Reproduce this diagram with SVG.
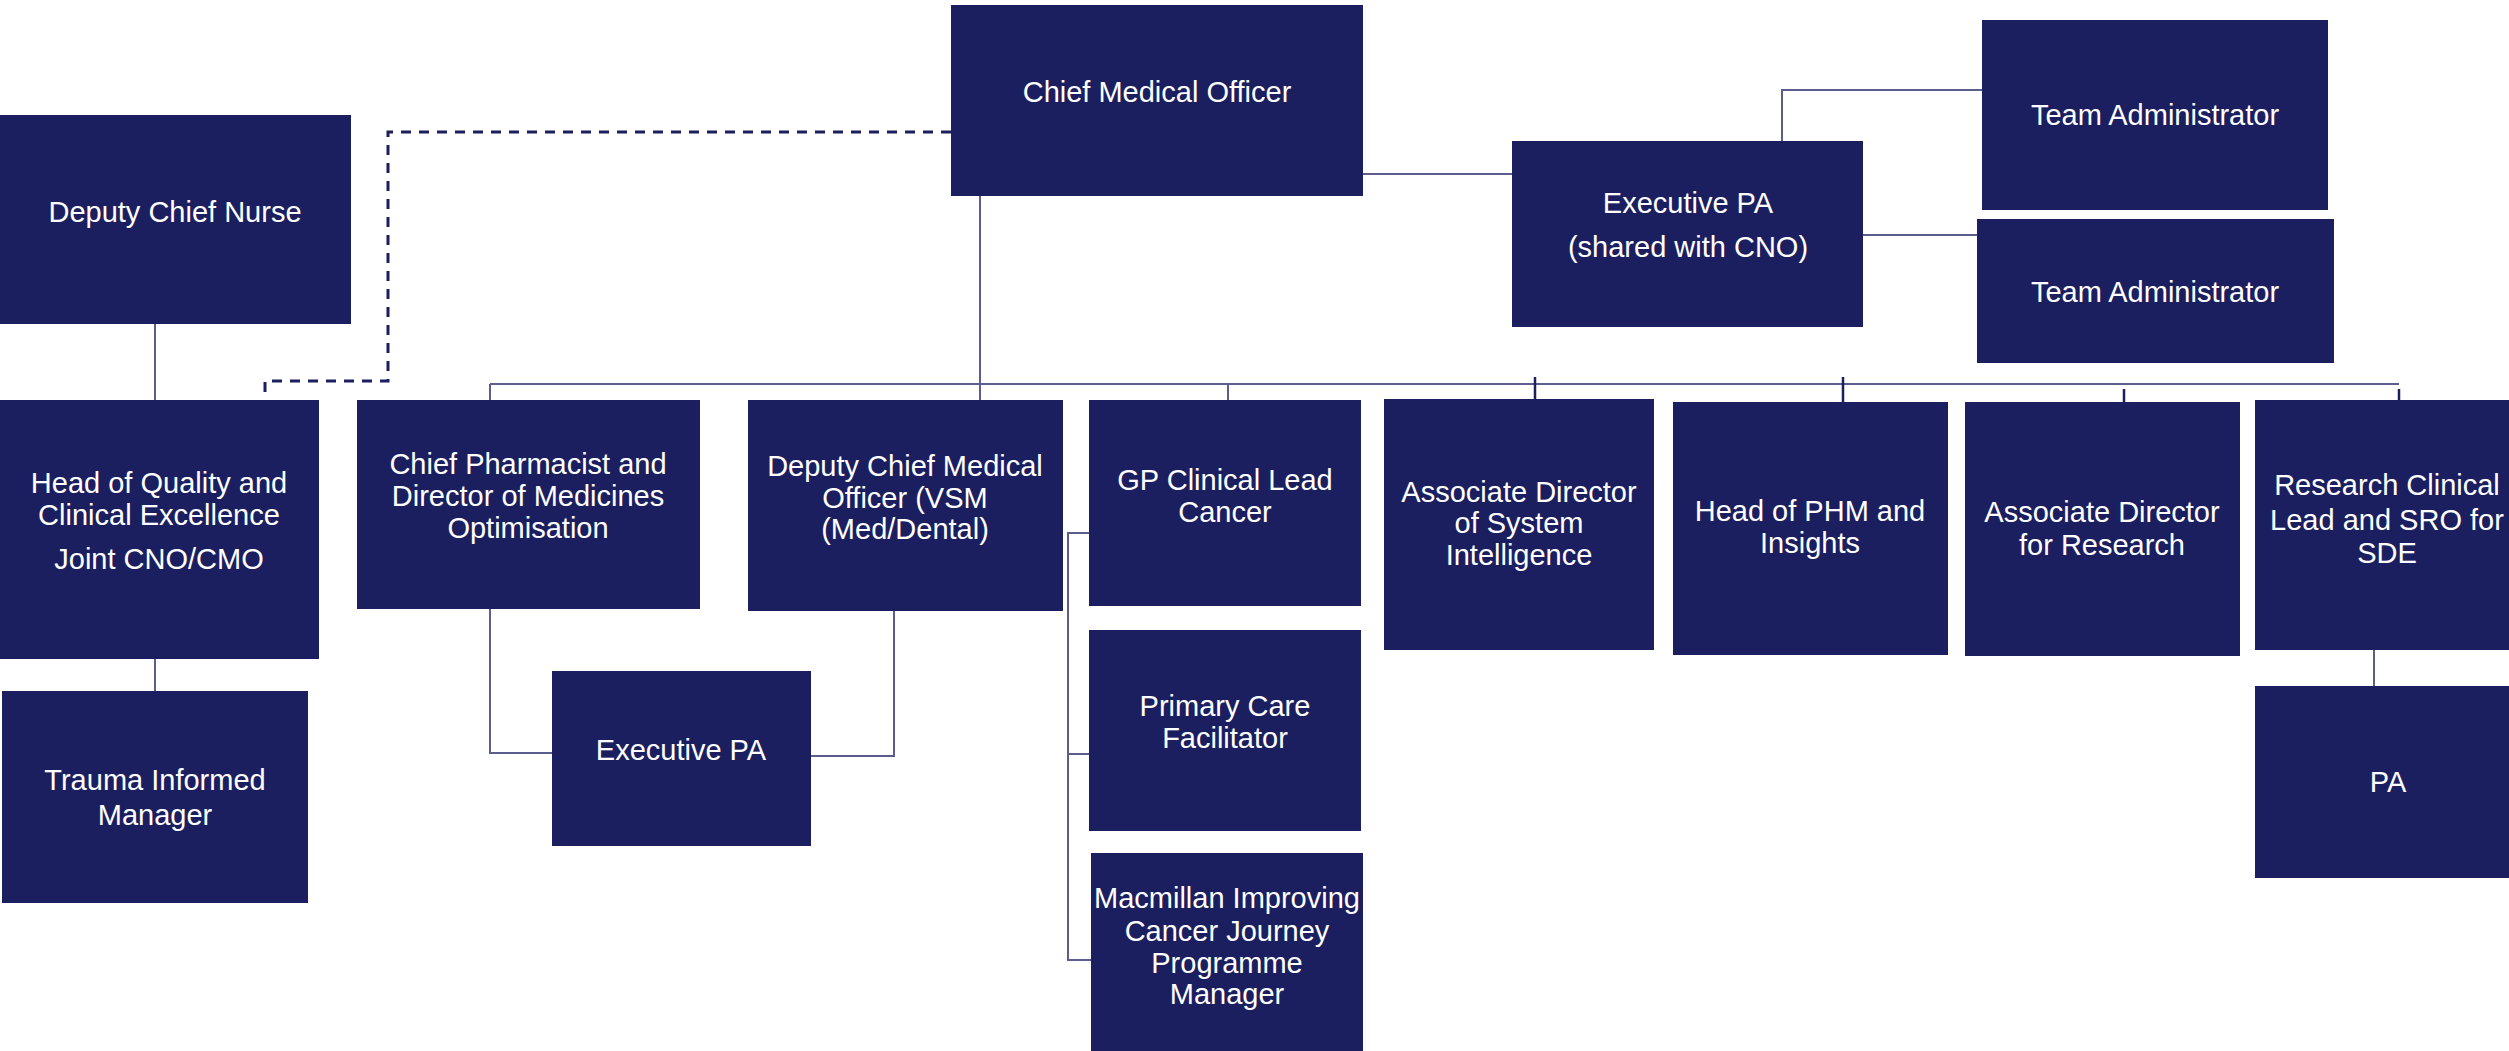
<svg xmlns="http://www.w3.org/2000/svg" width="2509" height="1051" viewBox="0 0 2509 1051">
<style>
.box{fill:#1c1f5f}
.t{font-family:"Liberation Sans",Arial,sans-serif;font-size:29px;fill:#ffffff;text-anchor:middle}
.ln{fill:none;stroke:#5b5d8d;stroke-width:2}
.lk{fill:none;stroke:#1c1f5f;stroke-width:2.5}
.ds{fill:none;stroke:#1c1f5f;stroke-width:3;stroke-dasharray:10 8}
</style>
<rect width="2509" height="1051" fill="#ffffff"/>
<g id="connectors">
<path class="ds" d="M951,132 H388 V381 H265 V392"/>
<path class="ln" d="M490,384 H2399"/>
<path class="ln" d="M980,196 V400"/>
<path class="ln" d="M490,384 V400"/>
<path class="ln" d="M1228,384 V400"/>
<path class="lk" d="M1535,377 V399"/>
<path class="lk" d="M1843,377 V402"/>
<path class="lk" d="M2124,389 V402"/>
<path class="lk" d="M2399,389 V400"/>
<path class="ln" d="M1363,174 H1512"/>
<path class="ln" d="M1782,141 V90 H1982"/>
<path class="ln" d="M1863,235 H1977"/>
<path class="ln" d="M155,324 V400"/>
<path class="ln" d="M155,659 V691"/>
<path class="ln" d="M490,609 V753 H552"/>
<path class="ln" d="M894,611 V756 H811"/>
<path class="ln" d="M1089,533 H1068 V960 H1091"/>
<path class="ln" d="M1068,754 H1089"/>
<path class="ln" d="M2374,650 V686"/>
</g>
<g id="cmo"><rect class="box" x="951" y="5" width="412" height="191"/><text class="t" x="1157" y="102">Chief Medical Officer</text></g>
<g id="exec-pa-shared"><rect class="box" x="1512" y="141" width="351" height="186"/><text class="t" x="1688" y="213">Executive PA</text><text class="t" x="1688" y="257">(shared with CNO)</text></g>
<g id="team-admin-1"><rect class="box" x="1982" y="20" width="346" height="190"/><text class="t" x="2155" y="125">Team Administrator</text></g>
<g id="team-admin-2"><rect class="box" x="1977" y="219" width="357" height="144"/><text class="t" x="2155" y="302">Team Administrator</text></g>
<g id="deputy-chief-nurse"><rect class="box" x="0" y="115" width="351" height="209"/><text class="t" x="175" y="222">Deputy Chief Nurse</text></g>
<g id="head-quality"><rect class="box" x="0" y="400" width="319" height="259"/><text class="t" x="159" y="493">Head of Quality and</text><text class="t" x="159" y="525">Clinical Excellence</text><text class="t" x="159" y="569">Joint CNO/CMO</text></g>
<g id="trauma"><rect class="box" x="2" y="691" width="306" height="212"/><text class="t" x="155" y="790">Trauma Informed</text><text class="t" x="155" y="825">Manager</text></g>
<g id="chief-pharmacist"><rect class="box" x="357" y="400" width="343" height="209"/><text class="t" x="528" y="474">Chief Pharmacist and</text><text class="t" x="528" y="506">Director of Medicines</text><text class="t" x="528" y="538">Optimisation</text></g>
<g id="exec-pa"><rect class="box" x="552" y="671" width="259" height="175"/><text class="t" x="681" y="760">Executive PA</text></g>
<g id="deputy-cmo"><rect class="box" x="748" y="400" width="315" height="211"/><text class="t" x="905" y="476">Deputy Chief Medical</text><text class="t" x="905" y="508">Officer (VSM</text><text class="t" x="905" y="539">(Med/Dental)</text></g>
<g id="gp-lead"><rect class="box" x="1089" y="400" width="272" height="206"/><text class="t" x="1225" y="490">GP Clinical Lead</text><text class="t" x="1225" y="522">Cancer</text></g>
<g id="primary-care"><rect class="box" x="1089" y="630" width="272" height="201"/><text class="t" x="1225" y="716">Primary Care</text><text class="t" x="1225" y="748">Facilitator</text></g>
<g id="macmillan"><rect class="box" x="1091" y="853" width="272" height="198"/><text class="t" x="1227" y="908">Macmillan Improving</text><text class="t" x="1227" y="941">Cancer Journey</text><text class="t" x="1227" y="973">Programme</text><text class="t" x="1227" y="1004">Manager</text></g>
<g id="assoc-dir-si"><rect class="box" x="1384" y="399" width="270" height="251"/><text class="t" x="1519" y="502">Associate Director</text><text class="t" x="1519" y="533">of System</text><text class="t" x="1519" y="565">Intelligence</text></g>
<g id="head-phm"><rect class="box" x="1673" y="402" width="275" height="253"/><text class="t" x="1810" y="521">Head of PHM and</text><text class="t" x="1810" y="553">Insights</text></g>
<g id="assoc-dir-research"><rect class="box" x="1965" y="402" width="275" height="254"/><text class="t" x="2102" y="522">Associate Director</text><text class="t" x="2102" y="555">for Research</text></g>
<g id="research-lead"><rect class="box" x="2255" y="400" width="265" height="250"/><text class="t" x="2387" y="495">Research Clinical</text><text class="t" x="2387" y="530">Lead and SRO for</text><text class="t" x="2387" y="563">SDE</text></g>
<g id="pa"><rect class="box" x="2255" y="686" width="265" height="192"/><text class="t" x="2388" y="792">PA</text></g>
</svg>
